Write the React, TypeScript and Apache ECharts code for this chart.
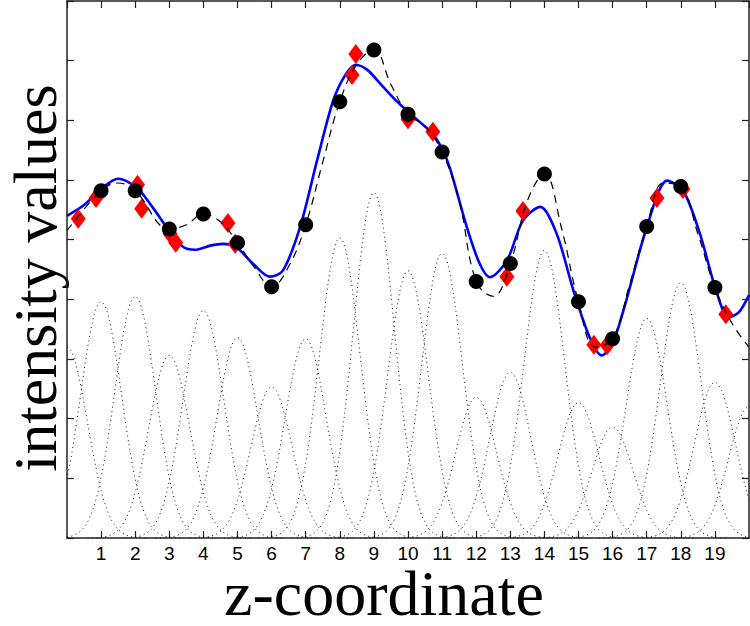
import React, { useEffect, useRef } from "react";
import * as echarts from "echarts";

// ---- data ----
const tickLabels = ["1","2","3","4","5","6","7","8","9","10","11","12","13","14","15","16","17","18","19"];

// black circles (samples at integer z)
const circleX = [1, 2, 3, 4, 5, 6, 7, 8, 9, 10, 11, 12, 13, 14, 15, 16, 17, 18, 19];
const circleY = [5.82, 5.82, 5.18, 5.43, 4.95, 4.21, 5.25, 7.31, 8.18, 7.1, 6.47, 4.3, 4.6, 6.1, 3.96, 3.34, 5.22, 5.89, 4.2];

// red diamonds (measurements at non-integer z)
const diamondX = [0.33, 0.85, 2.07, 2.19, 3.02, 3.19, 4.72, 4.93, 8.36, 8.47, 10.0, 10.73, 12.9, 13.37, 15.45, 15.84, 17.3, 18.06, 19.32];
const diamondY = [5.35, 5.7, 5.92, 5.52, 5.1, 4.95, 5.28, 4.93, 7.76, 8.11, 7.02, 6.81, 4.38, 5.48, 3.24, 3.23, 5.7, 5.85, 3.75];

// blue fitted curve
const blueX = [0, 0.5, 1.0, 1.5, 2.05, 2.5, 3.0, 3.4, 3.75, 4.2, 4.57, 4.97, 5.45, 5.95, 6.33, 6.83, 7.33, 7.8, 8.15, 8.47, 8.8, 9.27, 9.6, 9.97, 10.35, 10.73, 11.0, 11.23, 11.73, 12.1, 12.4, 12.9, 13.37, 13.88, 14.36, 14.85, 15.33, 15.68, 16.0, 16.4, 17.0, 17.6, 18.07, 18.56, 19.06, 19.4, 19.7, 20];
const blueY = [5.4, 5.58, 5.85, 6.02, 5.87, 5.55, 5.15, 4.88, 4.83, 4.9, 4.93, 4.87, 4.6, 4.38, 4.48, 5.2, 6.32, 7.32, 7.75, 7.93, 7.85, 7.56, 7.36, 7.16, 6.97, 6.77, 6.52, 6.2, 5.2, 4.6, 4.37, 4.65, 5.32, 5.55, 5.1, 4.15, 3.36, 3.06, 3.26, 3.98, 5.2, 5.99, 5.82, 5.1, 4.1, 3.7, 3.78, 4.07];

// black dashed curve
const dashX = [0, 1, 1.5, 2, 3, 3.5, 4, 4.5, 5, 5.5, 6, 6.5, 7, 7.5, 8, 8.5, 9, 9.5, 10, 10.5, 11, 11.5, 12, 12.5, 13, 13.5, 14, 14.5, 15, 15.5, 16, 16.5, 17, 17.5, 18, 18.5, 19, 19.5, 20];
const dashY = [5.15, 5.82, 5.95, 5.82, 5.18, 5.25, 5.43, 5.3, 4.95, 4.53, 4.21, 4.55, 5.25, 6.3, 7.31, 7.94, 8.18, 7.6, 7.1, 6.9, 6.47, 5.65, 4.3, 4.05, 4.6, 5.65, 6.1, 5.2, 3.96, 3.2, 3.34, 4.25, 5.22, 5.95, 5.89, 5.1, 4.2, 3.6, 3.2];

// dotted Gaussian basis functions: centre z = 0..20, peak heights
const basisCentre = [0, 1, 2, 3, 4, 5, 6, 7, 8, 9, 10, 11, 12, 13, 14, 15, 16, 17, 18, 19, 20];
const basisAmp = [3.2, 3.96, 4.05, 3.06, 3.81, 3.36, 2.53, 3.34, 5.03, 5.79, 4.48, 4.77, 2.36, 2.78, 4.82, 2.27, 1.86, 3.68, 4.28, 2.61, 2.2];
const basisSigma = 0.6;

const zip = (xs: number[], ys: number[]) => xs.map((x, i) => [x, ys[i]]);

function basisCurve(c: number, a: number): number[][] {
  const pts: number[][] = [];
  const lo = Math.max(0, c - 2.4);
  const hi = Math.min(20, c + 2.4);
  for (let t = lo; t <= hi + 1e-9; t += 0.04) {
    pts.push([t, a * Math.exp(-((t - c) * (t - c)) / (2 * basisSigma * basisSigma))]);
  }
  return pts;
}

export default function App() {
  const ref = useRef<HTMLDivElement>(null);
  useEffect(() => {
    if (!ref.current) return;
    const chart = echarts.init(ref.current, null, { renderer: "svg" });
    const axisLine = { show: true, onZero: false, lineStyle: { color: "#222", width: 1.5 } };
    const tick = { show: true, inside: true, length: 7, lineStyle: { color: "#222", width: 1.2 } };

    const dotted = basisCentre.map((c, i) => ({
      type: "line",
      data: basisCurve(c, basisAmp[i]),
      showSymbol: false,
      symbol: "none",
      lineStyle: { color: "#111", width: 1, type: [1, 3.5] },
      silent: true,
      z: 1,
    }));

    chart.setOption({
      animation: false,
      backgroundColor: "#fff",
      grid: { left: 67, right: 1, top: 1, bottom: 88, containLabel: false },
      xAxis: [
        {
          type: "value", min: 0, max: 20, interval: 1, position: "bottom",
          axisLine, axisTick: tick, splitLine: { show: false },
          axisLabel: {
            show: true, showMinLabel: false, showMaxLabel: false,
            formatter: (v: number) => tickLabels[v - 1] ?? "",
            fontFamily: "Liberation Sans", fontSize: 19, color: "#000", margin: 6,
          },
        },
        {
          type: "value", min: 0, max: 20, interval: 1, position: "top",
          axisLine, axisTick: tick, splitLine: { show: false }, axisLabel: { show: false },
        },
      ],
      yAxis: [
        {
          type: "value", min: 0, max: 9, interval: 1, position: "left",
          axisLine, axisTick: tick, splitLine: { show: false }, axisLabel: { show: false },
        },
        {
          type: "value", min: 0, max: 9, interval: 1, position: "right",
          axisLine, axisTick: tick, splitLine: { show: false }, axisLabel: { show: false },
        },
      ],
      graphic: [
        {
          type: "text", x: 35, y: 278, rotation: Math.PI / 2,
          style: {
            text: "intensity values", fontFamily: "Liberation Serif", fontSize: 62,
            lineHeight: 56,
            fill: "#000", align: "center", verticalAlign: "middle",
          },
        },
        {
          type: "text", x: 384, y: 593,
          style: {
            text: "z-coordinate", fontFamily: "Liberation Serif", fontSize: 64,
            lineHeight: 52,
            fill: "#000", align: "center", verticalAlign: "middle",
          },
        },
      ],
      series: [
        ...dotted,
        {
          type: "line", name: "fit", data: zip(blueX, blueY), smooth: 0.3,
          showSymbol: false, symbol: "none",
          lineStyle: { color: "#0000ff", width: 2.6 }, z: 2,
        },
        {
          type: "scatter", name: "measured", data: zip(diamondX, diamondY),
          symbol: "diamond", symbolSize: [15, 20],
          itemStyle: { color: "#ff0000", opacity: 1 }, z: 3,
        },
        {
          type: "line", name: "model", data: zip(dashX, dashY), smooth: 0.4,
          showSymbol: false, symbol: "none",
          lineStyle: { color: "#000", width: 1.2, type: [8, 6] }, z: 4,
        },
        {
          type: "scatter", name: "samples", data: zip(circleX, circleY),
          symbol: "circle", symbolSize: 15,
          itemStyle: { color: "#000", opacity: 1 }, z: 5,
        },
      ],
    });
    return () => chart.dispose();
  }, []);
  return (
    <div
      ref={ref}
      style={{ position: "fixed", left: 0, top: 0, width: 750, height: 626, background: "#fff" }}
    />
  );
}
